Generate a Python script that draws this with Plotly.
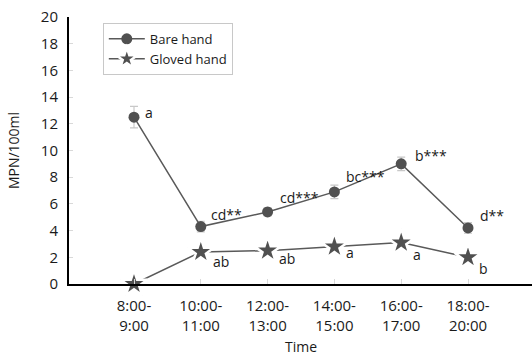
import plotly.graph_objects as go

categories = ["8:00-<br>9:00", "10:00-<br>11:00", "12:00-<br>13:00", "14:00-<br>15:00", "16:00-<br>17:00", "18:00-<br>20:00"]
bare = [12.5, 4.3, 5.4, 6.9, 9.0, 4.2]
bare_err = [0.8, 0.4, 0.3, 0.5, 0.5, 0.4]
gloved = [0.0, 2.4, 2.5, 2.8, 3.1, 2.0]
bare_labels = ["a", "cd**", "cd***", "bc***", "b***", "d**"]
gloved_labels = ["", "ab", "ab", "a", "a", "b"]

bare_shift = [(9, 5), (8, 12), (10, 14), (10, 15), (12, 8), (10, 12)]
gloved_shift = [(0, 0), (10, -10), (9, -8), (10, -6), (10, -12), (9, -11)]

xs = list(range(len(categories)))
FONT = "Open Sans, Noto Sans, sans-serif"
LINE = "#595959"
MARK = "#505050"

fig = go.Figure()
fig.add_trace(go.Scatter(
    x=xs, y=bare, name="Bare hand", mode="lines+markers", cliponaxis=False,
    line=dict(color=LINE, width=1.5),
    marker=dict(symbol="circle", size=11, color=MARK),
    error_y=dict(type="data", array=bare_err, visible=True, color="#c8c8c8", thickness=1.2, width=4),
))
fig.add_trace(go.Scatter(
    x=xs, y=gloved, name="Gloved hand", mode="lines+markers", cliponaxis=False,
    line=dict(color=LINE, width=1.5),
    marker=dict(symbol="star", size=20, color=MARK, line=dict(color="white", width=2.5)),
))

for i, lab in enumerate(bare_labels):
    if lab:
        fig.add_annotation(x=xs[i], y=bare[i], text=lab, showarrow=False, xanchor="left",
                           xshift=bare_shift[i][0], yshift=bare_shift[i][1],
                           font=dict(size=14, color="#1a1a1a", family=FONT))
for i, lab in enumerate(gloved_labels):
    if lab:
        fig.add_annotation(x=xs[i], y=gloved[i], text=lab, showarrow=False, xanchor="left",
                           xshift=gloved_shift[i][0], yshift=gloved_shift[i][1],
                           font=dict(size=14, color="#1a1a1a", family=FONT))

fig.add_annotation(x=0.5, xref="paper", y=0, yref="paper", yshift=-62, text="Time",
                   showarrow=False, xanchor="center", yanchor="middle",
                   font=dict(size=14, color="#1a1a1a", family=FONT))

fig.update_layout(
    width=532, height=355,
    margin=dict(l=69, r=0, t=17, b=71),
    paper_bgcolor="white", plot_bgcolor="white",
    font=dict(family=FONT, size=14, color="#1a1a1a"),
    showlegend=True,
    legend=dict(x=0.073, y=0.978, xanchor="left", yanchor="top",
                bordercolor="#c8c8c8", borderwidth=1, bgcolor="white",
                font=dict(size=13, family=FONT), itemwidth=36, tracegroupgap=4),
    xaxis=dict(
        range=[-0.973, 5.958], tickmode="array", tickvals=xs, ticktext=categories,
        showgrid=False, zeroline=False, showline=True, linecolor="black", linewidth=2,
        ticks="inside", ticklen=5, tickcolor="#d9d9d9", tickwidth=1,
        tickfont=dict(size=15, family=FONT), ticklabelstandoff=7,
    ),
    yaxis=dict(
        range=[0, 20], tickmode="array", tickvals=list(range(0, 21, 2)),
        showgrid=False, zeroline=False, showline=True, linecolor="black", linewidth=2,
        ticks="inside", ticklen=4, tickcolor="#d9d9d9", tickwidth=1,
        tickfont=dict(size=15, family=FONT), ticklabelstandoff=6,
        title=dict(text="MPN/100ml", font=dict(size=14, family=FONT), standoff=18),
    ),
)

fig.write_html("out.html")
